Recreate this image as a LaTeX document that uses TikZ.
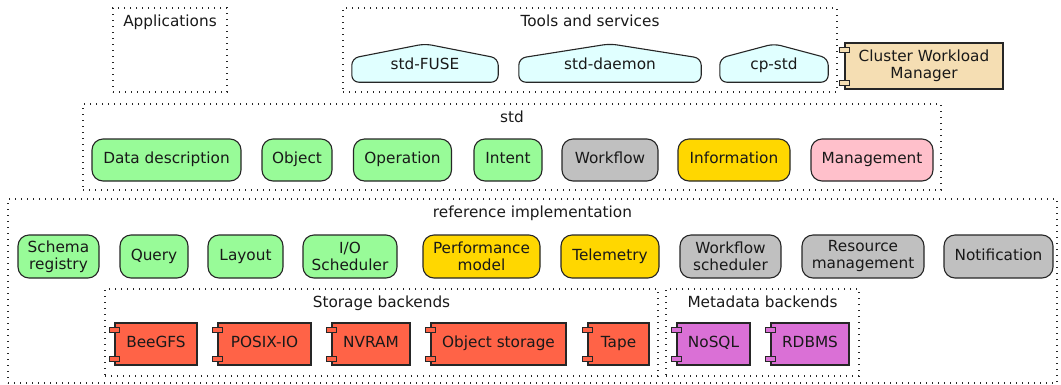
\documentclass[tikz,border=0pt]{standalone}
\usepackage{fontspec}
\setmainfont{DejaVu Sans}
\usepackage{xcolor}
\usetikzlibrary{positioning, backgrounds}
\definecolor{linegray}{HTML}{262626}
\definecolor{palegrn}{HTML}{98FB98}
\definecolor{goldy}{HTML}{FFD700}
\definecolor{silvery}{HTML}{C0C0C0}
\definecolor{pinky}{HTML}{FFC0CB}
\definecolor{tomatored}{HTML}{FF6347}
\definecolor{orchidpink}{HTML}{DA70D6}
\definecolor{cyanlight}{HTML}{E0FFFF}
\definecolor{wheaty}{HTML}{F5DEB3}

\begin{document}
\begin{tikzpicture}[
    x=1pt, y=-1pt,
    every node/.style={font=\fontsize{15.3}{17}\selectfont, text=black!90},
    frame/.style={rectangle, draw=linegray, line width=1.4pt, dash pattern=on 1.4pt off 4.6pt,
        inner sep=0pt},
    title/.style={anchor=base, inner sep=0pt},
    pill/.style={rectangle, rounded corners=11pt, draw=linegray, fill=#1, line width=1.1pt,
        align=center, inner sep=1pt, minimum height=42pt, text height=11.4pt, text depth=3.6pt},
    pilltwo/.style={pill=#1, text height=, text depth=},
    comp/.style={rectangle, draw=linegray, fill=#1, line width=1.1pt, align=center,
        inner sep=1pt, minimum height=42pt, text height=11.4pt, text depth=3.6pt},
    tab/.style={draw=linegray, fill=#1, line width=1.1pt},
    tool/.style={inner sep=0pt, minimum height=32pt, text height=11.4pt, text depth=3.6pt},
    toolshape/.style={draw=linegray, fill=cyanlight, line width=1.1pt, rounded corners=7pt},
]
\useasboundingbox (0,0) rectangle (1061,384);

% Frames
\node[frame, minimum width=114pt, minimum height=84pt] (apps) at (170,50) {};
\node[frame, minimum width=494pt, minimum height=84pt] (tools) at (590,50) {};
\node[frame, minimum width=858pt, minimum height=86pt] (stdf) at (512,147) {};
\node[frame, minimum width=1049pt, minimum height=184pt] (reff) at (532.5,291) {};
\node[frame, minimum width=553pt, minimum height=87pt] (stor) at (381.5,332.5) {};
\node[frame, minimum width=193pt, minimum height=87pt] (meta) at (762.5,332.5) {};

\node[title] (appslbl) at ([yshift=-19pt]apps.north) {Applications};
\node[title] (toolslbl) at ([yshift=-19pt]tools.north) {Tools and services};
\node[title] (stdlbl) at ([yshift=-19pt]stdf.north) {std};
\node[title] (reflbl) at ([yshift=-19pt]reff.north) {reference implementation};
\node[title] (storlbl) at ([yshift=-19pt]stor.north) {Storage backends};
\node[title] (metalbl) at ([yshift=-19pt]meta.north) {Metadata backends};

% Tools and services
\node[tool, minimum width=146pt] (fuse) at (425,66) {std-FUSE};
\node[tool, minimum width=182pt] (daemon) at (610,66) {std-daemon};
\node[tool, minimum width=108pt] (cpstd) at (774,66) {cp-std};

\begin{pgfonlayer}{background}
\foreach \n in {fuse,daemon,cpstd} {
    \draw[toolshape] (\n.south west) -- ([yshift=24pt]\n.south west) -- ([yshift=6pt]\n.north)
        -- ([yshift=24pt]\n.south east) -- (\n.south east) -- cycle;
}
\end{pgfonlayer}

\node[comp=wheaty, minimum width=158pt, minimum height=46pt, text height=, text depth=] (cwm) at (924,66)
    {Cluster Workload\\Manager};

% Row: std
\node[pill=palegrn, minimum width=149pt] (datadesc) at (166.5,160) {Data description};
\node[pill=palegrn, minimum width=70pt] (object) at (297,160) {Object};
\node[pill=palegrn, minimum width=98pt] (operation) at (402.5,160) {Operation};
\node[pill=palegrn, minimum width=68pt] (intent) at (508,160) {Intent};
\node[pill=silvery, minimum width=96pt] (workflow) at (610,160) {Workflow};
\node[pill=goldy, minimum width=112pt] (information) at (734,160) {Information};
\node[pill=pinky, minimum width=122pt] (management) at (872,160) {Management};

% Row: reference implementation
\node[pilltwo=palegrn, minimum width=81pt, minimum height=43pt] (schema) at (58.5,256.5) {Schema\\registry};
\node[pill=palegrn, minimum width=68pt, minimum height=43pt] (query) at (154,256.5) {Query};
\node[pill=palegrn, minimum width=75pt, minimum height=43pt] (layout) at (245.5,256.5) {Layout};
\node[pilltwo=palegrn, minimum width=94pt, minimum height=43pt] (iosched) at (350,256.5) {I/O\\Scheduler};
\node[pilltwo=goldy, minimum width=117pt, minimum height=43pt] (perf) at (481.5,256.5) {Performance\\model};
\node[pill=goldy, minimum width=98pt, minimum height=43pt] (telemetry) at (610,256.5) {Telemetry};
\node[pilltwo=silvery, minimum width=101pt, minimum height=43pt] (wfsched) at (730.5,256.5) {Workflow\\scheduler};
\node[pilltwo=silvery, minimum width=122pt, minimum height=43pt] (resmgmt) at (863,256.5) {Resource\\management};
\node[pill=silvery, minimum width=109pt, minimum height=43pt] (notif) at (998.5,256.5) {Notification};

% Row: backends
\node[comp=tomatored, minimum width=82pt] (beegfs) at (156,344) {BeeGFS};
\node[comp=tomatored, minimum width=93pt] (posix) at (264.5,344) {POSIX-IO};
\node[comp=tomatored, minimum width=78pt] (nvram) at (371,344) {NVRAM};
\node[comp=tomatored, minimum width=135pt] (objstore) at (498.5,344) {Object storage};
\node[comp=tomatored, minimum width=61pt] (tape) at (618.5,344) {Tape};
\node[comp=orchidpink, minimum width=73pt] (nosql) at (713.5,344) {NoSQL};
\node[comp=orchidpink, minimum width=78pt] (rdbms) at (810,344) {RDBMS};

% component tabs
\foreach \n/\c in {cwm/wheaty,beegfs/tomatored,posix/tomatored,nvram/tomatored,
        objstore/tomatored,tape/tomatored,nosql/orchidpink,rdbms/orchidpink} {
    \draw[tab=\c] ([xshift=-5pt,yshift=-5pt]\n.north west) rectangle ++(10,5);
    \draw[tab=\c] ([xshift=-5pt,yshift=4pt]\n.south west) rectangle ++(10,-5);
}

\end{tikzpicture}
\end{document}
